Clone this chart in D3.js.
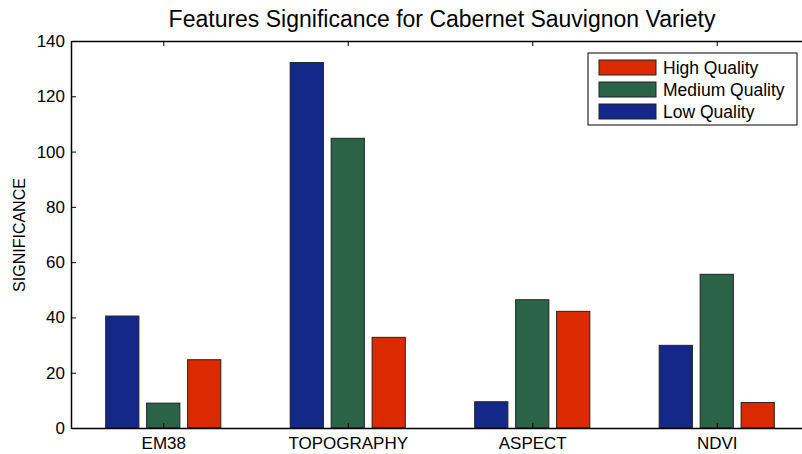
<!DOCTYPE html>
<html>
<head>
<meta charset="utf-8">
<script src="https://cdn.jsdelivr.net/npm/d3@7"></script>
<style>
    body { margin: 0; background: #fff; }
    svg { display: block; font-family: "Liberation Sans", Arial, sans-serif; }
</style>
</head>
<body>
<svg id="chart" width="802" height="454"></svg>
<script>
// Dados.
const categories = ['EM38', 'TOPOGRAPHY', 'ASPECT', 'NDVI'];
const seriesNames = ['Low Quality', 'Medium Quality', 'High Quality'];
const lowQuality = [40.5, 132.2, 9.5, 29.9];
const mediumQuality = [9.0, 104.8, 46.4, 55.6];
const highQuality = [24.7, 32.8, 42.2, 9.2];
const yTicks = [0, 20, 40, 60, 80, 100, 120, 140];

const colors = ['#14288a', '#2a6348', '#dc2a00'];
const series = [lowQuality, mediumQuality, highQuality];

const svg = d3.select('#chart');
const margin = { left: 71, top: 41, right: 809, bottom: 428 };
const font = '"Liberation Sans", Arial, sans-serif';

// Escala x em posições de categoria (0.5 .. 4.5), como no MATLAB.
const x = d3.scaleLinear().domain([0.5, 4.5]).range([margin.left, margin.right]);
const y = d3.scaleLinear().domain([0, 140]).range([margin.bottom, margin.top]);

const step = x(2) - x(1);
const barW = step * 0.18;
const offsets = [-0.222, 0, 0.222];

const g = svg.append('g');

series.forEach(function (vals, s) {
    g.selectAll('.bar' + s)
        .data(vals)
        .enter().append('rect')
        .attr('x', (d, i) => x(i + 1 + offsets[s]) - barW / 2)
        .attr('y', d => y(d))
        .attr('width', barW)
        .attr('height', d => y(0) - y(d))
        .attr('fill', colors[s])
        .attr('stroke', '#222')
        .attr('stroke-width', 1);
});

// Eixos com ticks para dentro.
const axisLeft = d3.axisLeft(y).tickValues(yTicks).tickSizeInner(-5).tickSizeOuter(0).tickPadding(6);
const yAxis = svg.append('g').attr('transform', 'translate(' + margin.left + ',0)').call(axisLeft);
yAxis.attr('font-family', font);
yAxis.selectAll('text').style('font-size', '17px').attr('fill', '#000');

const axisBottom = d3.axisBottom(x).tickValues([1, 2, 3, 4]).tickFormat((d, i) => categories[i])
    .tickSizeInner(-5).tickSizeOuter(0).tickPadding(9);
const xAxis = svg.append('g').attr('transform', 'translate(0,' + margin.bottom + ')').call(axisBottom);
xAxis.attr('font-family', font);
xAxis.selectAll('text').style('font-size', '17px').attr('fill', '#000');

const axisTop = d3.axisTop(x).tickValues([1, 2, 3, 4]).tickFormat('').tickSizeInner(-5).tickSizeOuter(0);
svg.append('g').attr('transform', 'translate(0,' + margin.top + ')').call(axisTop);

svg.selectAll('.domain').attr('stroke', '#000').attr('stroke-width', 1.5);
svg.selectAll('.tick line').attr('stroke', '#000');

// Título e rótulo do eixo y.
svg.append('text')
    .attr('x', 442).attr('y', 27)
    .attr('text-anchor', 'middle')
    .style('font-size', '23px')
    .text('Features Significance for Cabernet Sauvignon Variety');

svg.append('text')
    .attr('transform', 'translate(25,235) rotate(-90)')
    .attr('text-anchor', 'middle')
    .style('font-size', '16px')
    .text('SIGNIFICANCE');

// Legenda (ordem invertida, como no original).
const legend = svg.append('g').attr('transform', 'translate(588,53)');
legend.append('rect')
    .attr('width', 209).attr('height', 72)
    .attr('fill', '#fff').attr('stroke', '#000');
const order = [2, 1, 0];
order.forEach(function (s, k) {
    legend.append('rect')
        .attr('x', 11).attr('y', 7 + k * 22)
        .attr('width', 57).attr('height', 15)
        .attr('fill', colors[s]).attr('stroke', '#222');
    legend.append('text')
        .attr('x', 75).attr('y', 21 + k * 22)
        .style('font-size', '17.5px')
        .text(seriesNames[s]);
});
</script>
</body>
</html>
